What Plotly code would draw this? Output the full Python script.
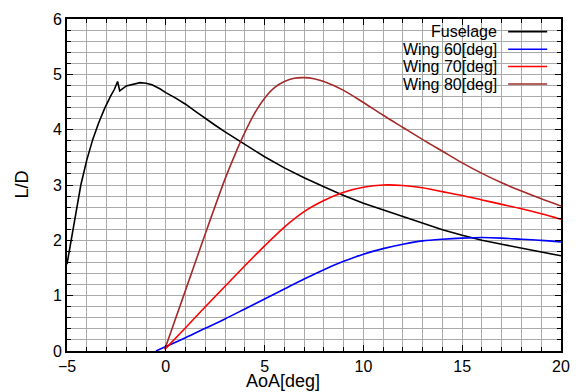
import plotly.graph_objects as go

# ---- data ----
fus_aoa = [-5, -4.7, -4.3, -4.0, -3.7, -3.4, -3.1, -2.8, -2.6, -2.44, -2.33, -2.0, -1.6, -1.3,
           -1.0, -0.7, -0.3, 0, 0.5, 1, 1.5, 2, 2.5, 3, 4, 5, 6, 7, 8, 9, 10, 11, 12, 13, 14,
           15, 16, 17, 18, 19, 20]
fus_ld = [1.57, 2.2, 3.0, 3.45, 3.82, 4.12, 4.38, 4.60, 4.73, 4.87, 4.70, 4.79, 4.83, 4.85,
          4.84, 4.81, 4.74, 4.67, 4.57, 4.46, 4.33, 4.20, 4.08, 3.96, 3.73, 3.51, 3.31, 3.13,
          2.97, 2.81, 2.67, 2.55, 2.42, 2.30, 2.19, 2.09, 2.00, 1.93, 1.86, 1.79, 1.72]

w60_aoa = [-0.5, 0, 1, 2, 3, 4, 5, 6, 7, 8, 9, 10, 11, 12, 13, 14, 15, 16, 17, 18, 19, 20]
w60_ld = [0.0, 0.08, 0.24, 0.41, 0.58, 0.76, 0.94, 1.12, 1.30, 1.47, 1.62, 1.75, 1.85, 1.93,
          1.99, 2.02, 2.04, 2.05, 2.04, 2.02, 2.00, 1.97]

w70_aoa = [-0.05, 1, 2, 3, 4, 5, 6, 7, 8, 9, 10, 11, 12, 13, 14, 15, 16, 17, 18, 19, 20]
w70_ld = [0.03, 0.42, 0.80, 1.17, 1.54, 1.90, 2.24, 2.52, 2.72, 2.87, 2.96, 3.00, 2.99, 2.95,
          2.88, 2.81, 2.73, 2.65, 2.57, 2.48, 2.38]

w80_aoa = [-0.05, 1, 2, 3, 3.5, 4, 4.5, 5, 5.5, 6, 6.5, 7, 7.5, 8, 9, 10, 11, 12, 13, 14, 15,
           16, 17, 18, 19, 20]
w80_ld = [0.03, 1.10, 2.12, 3.11, 3.55, 3.95, 4.30, 4.57, 4.76, 4.87, 4.93, 4.94, 4.92, 4.87,
          4.71, 4.49, 4.26, 4.04, 3.82, 3.61, 3.40, 3.21, 3.04, 2.89, 2.75, 2.62]

series_names = ["Fuselage", "Wing 60[deg]", "Wing 70[deg]", "Wing 80[deg]"]
series_colors = ["#000000", "#0000ff", "#ff0000", "#a52a2a"]

x_title = "AoA[deg]"
y_title = "L/D"

FONT = "Liberation Sans, Arial, sans-serif"
GRID = "#aaaaaa"

fig = go.Figure()
data = [(fus_aoa, fus_ld, "linear"), (w60_aoa, w60_ld, "spline"),
        (w70_aoa, w70_ld, "spline"), (w80_aoa, w80_ld, "spline")]
for (xs, ys, shp), name, col in zip(data, series_names, series_colors):
    fig.add_trace(go.Scatter(x=xs, y=ys, mode="lines", name=name, showlegend=False,
                             line=dict(color=col, width=1.6, shape=shp,
                                       smoothing=0.8 if shp == "spline" else None)))

axis_common = dict(showline=True, linecolor="black", linewidth=2, mirror="allticks",
                   ticks="inside", ticklen=6, tickwidth=1, tickcolor="black",
                   showgrid=True, gridcolor=GRID, gridwidth=1, zeroline=False,
                   automargin=False,
                   tickfont=dict(family=FONT, size=16, color="black"))

fig.update_xaxes(range=[-5, 20], dtick=5, tick0=-5,
                 minor=dict(dtick=1, ticks="inside", ticklen=4, tickcolor="black",
                            showgrid=True, gridcolor=GRID, gridwidth=1),
                 **axis_common)
fig.update_yaxes(range=[0, 6], dtick=1,
                 minor=dict(dtick=0.2, ticks="inside", ticklen=4, tickcolor="black",
                            showgrid=True, gridcolor=GRID, gridwidth=1),
                 **axis_common)

# axis titles
annotations = [
    dict(text=x_title, xref="paper", yref="paper", x=0.437, y=-0.09, showarrow=False,
         xanchor="center", yanchor="middle", font=dict(family=FONT, size=18, color="black")),
    dict(text=y_title, xref="paper", yref="paper", x=-0.092, y=0.5, showarrow=False,
         textangle=-90, xanchor="center", yanchor="middle",
         font=dict(family=FONT, size=18, color="black")),
]

# custom legend (text then line sample, as in the reference)
shapes = [dict(type="rect", xref="paper", yref="paper", x0=0.68, x1=0.996, y0=0.771, y1=0.996,
               fillcolor="white", line=dict(width=0), layer="between")]
row_y = [0.962, 0.909, 0.857, 0.804]
for name, col, yy in zip(series_names, series_colors, row_y):
    annotations.append(dict(text=name, xref="paper", yref="paper", x=0.8745, y=yy,
                            showarrow=False, xanchor="right", yanchor="middle",
                            font=dict(family=FONT, size=16, color="black")))
    shapes.append(dict(type="line", xref="paper", yref="paper", x0=0.893, x1=0.972,
                       y0=yy, y1=yy, line=dict(color=col, width=1.6), layer="above"))

# page body has an 8px margin, so the figure is 8px smaller than the window
fig.update_layout(width=572, height=384, margin=dict(l=59, r=19, t=11, b=41),
                  paper_bgcolor="white", plot_bgcolor="white",
                  annotations=annotations, shapes=shapes, showlegend=False,
                  font=dict(family=FONT, color="black"))

fig.write_html("out.html")
